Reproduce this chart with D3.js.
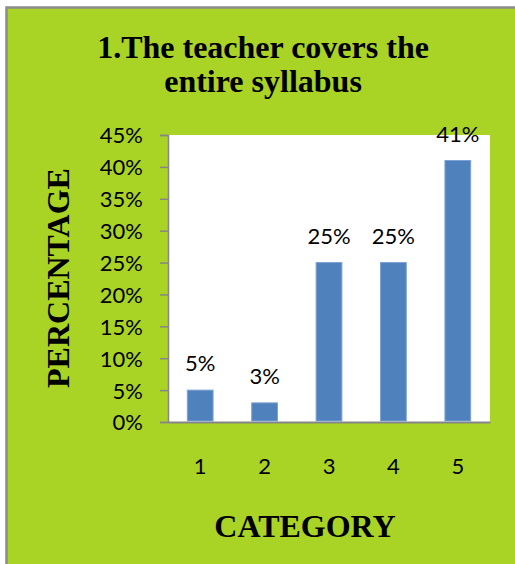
<!DOCTYPE html>
<html>
<head>
<meta charset="utf-8">
<script src="https://cdn.jsdelivr.net/npm/d3@7"></script>
<style>
  body { margin: 0; background: #fff; }
  svg text { fill: #000; }
</style>
</head>
<body>
<div id="chart"></div>
<script>
// Bar chart: teacher covers the syllabus
var categories = ["1", "2", "3", "4", "5"];
var values = [0.05, 0.03, 0.25, 0.25, 0.41];
var yTicks = [0, 0.05, 0.10, 0.15, 0.20, 0.25, 0.30, 0.35, 0.40, 0.45];
var titleLines = ["1.The teacher covers the", "entire syllabus"];

var w = 515, h = 564;

var svg = d3.select("#chart").append("svg")
  .attr("width", w)
  .attr("height", h);

// outer green panel with grey edge on top/left
svg.append("rect")
  .attr("x", 6)
  .attr("y", 7)
  .attr("width", w - 6)
  .attr("height", h - 7)
  .style("fill", "#a9d325");
svg.append("path")
  .attr("d", "M6.5," + h + "V7.5H" + w)
  .style("fill", "none")
  .style("stroke", "#8c8c8c")
  .style("stroke-width", 2.5);

var plot = { left: 168, top: 135, right: 490, bottom: 422 };

var x = d3.scaleBand()
  .domain(categories)
  .range([plot.left, plot.right])
  .paddingInner(0.6)
  .paddingOuter(0.3);

var y = d3.scaleLinear()
  .domain([0, 0.45])
  .range([plot.bottom, plot.top]);

svg.append("rect")
  .attr("x", plot.left)
  .attr("y", plot.top)
  .attr("width", plot.right - plot.left)
  .attr("height", plot.bottom - plot.top)
  .style("fill", "#fff");

// title
svg.append("text")
  .attr("x", 263)
  .attr("y", 58)
  .attr("text-anchor", "middle")
  .style("font-family", "'Liberation Serif', 'Times New Roman', serif")
  .style("font-weight", "bold")
  .style("font-size", "32px")
.selectAll("tspan")
  .data(titleLines)
.enter().append("tspan")
  .attr("x", 263)
  .attr("dy", function(d, i) { return i ? 34 : 0; })
  .text(String);

// y axis
var yAxis = svg.append("g")
  .attr("transform", "translate(" + plot.left + ",0)")
  .call(d3.axisLeft(y).tickValues(yTicks).tickFormat(d3.format(".0%")).tickSize(8).tickPadding(17));
yAxis.select(".domain").style("stroke", "#868686").style("stroke-width", 1.5);
yAxis.selectAll(".tick line").style("stroke", "#868686").style("stroke-width", 1.5);
yAxis.selectAll("text")
  .style("font-family", "Lato, 'Open Sans', sans-serif")
  .style("font-size", "22px")
  .attr("dy", "0.36em")
  .style("fill", "#000");

// x axis
var xAxis = svg.append("g")
  .attr("transform", "translate(0," + plot.bottom + ")")
  .call(d3.axisBottom(x).tickSize(0).tickPadding(36).tickSizeOuter(0));
xAxis.select(".domain").style("stroke", "#868686").style("stroke-width", 2);
xAxis.selectAll("text")
  .style("font-family", "Lato, 'Open Sans', sans-serif")
  .style("font-size", "22px")
  .style("fill", "#000");

// bars
svg.selectAll(".bar")
  .data(values)
.enter().append("rect")
  .attr("class", "bar")
  .attr("x", function(d, i) { return x(categories[i]); })
  .attr("y", function(d) { return y(d); })
  .attr("width", x.bandwidth())
  .attr("height", function(d) { return y(0) - y(d) - 1; })
  .style("fill", "#4f81bd")
  .style("stroke", "#7ea3d2")
  .style("stroke-width", 1);

// value labels
svg.selectAll(".label")
  .data(values)
.enter().append("text")
  .attr("class", "label")
  .attr("x", function(d, i) { return x(categories[i]) + x.bandwidth() / 2; })
  .attr("y", function(d) { return y(d) - 19; })
  .attr("text-anchor", "middle")
  .style("font-family", "Lato, 'Open Sans', sans-serif")
  .style("font-size", "22px")
  .text(d3.format(".0%"));

// axis titles
svg.append("text")
  .attr("transform", "translate(69,278) rotate(-90)")
  .attr("text-anchor", "middle")
  .style("font-family", "'Liberation Serif', 'Times New Roman', serif")
  .style("font-weight", "bold")
  .style("font-size", "32px")
  .text("PERCENTAGE");

svg.append("text")
  .attr("x", 305)
  .attr("y", 537)
  .attr("text-anchor", "middle")
  .style("font-family", "'Liberation Serif', 'Times New Roman', serif")
  .style("font-weight", "bold")
  .style("font-size", "32px")
  .text("CATEGORY");
</script>
</body>
</html>
